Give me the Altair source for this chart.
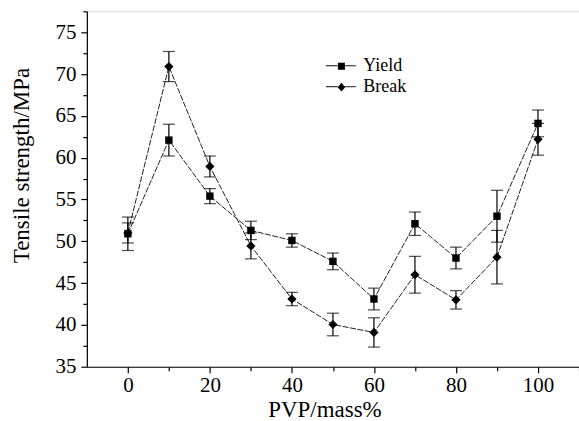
import altair as alt
import pandas as pd

# PVP content (mass %) and measured tensile strength (MPa) with error bars
pvp = [0, 10, 20, 30, 40, 50, 60, 70, 80, 90, 100]
yield_mean = [50.9, 62.1, 55.4, 51.3, 50.1, 47.6, 43.1, 52.1, 48.0, 53.0, 64.1]
yield_err = [2.0, 1.9, 0.9, 1.1, 0.8, 1.0, 1.3, 1.4, 1.3, 3.1, 1.6]
break_mean = [51.0, 70.9, 58.95, 49.45, 43.1, 40.05, 39.1, 46.0, 43.0, 48.1, 62.2]
break_err = [1.2, 1.8, 1.25, 1.55, 0.8, 1.35, 1.75, 2.2, 1.1, 3.2, 1.9]
series_names = ["Yield", "Break"]

x_major = [0, 20, 40, 60, 80, 100]
x_minor = [10, 30, 50, 70, 90, 110]
y_major = [35, 40, 45, 50, 55, 60, 65, 70, 75]
y_minor = [37.5, 42.5, 47.5, 52.5, 57.5, 62.5, 67.5, 72.5, 77.5]

rows = []
for name, means, errs in [("Yield", yield_mean, yield_err), ("Break", break_mean, break_err)]:
    for x, m, e in zip(pvp, means, errs):
        rows.append({"pvp": x, "series": name, "mean": m, "lo": m - e, "hi": m + e})
df = pd.DataFrame(rows)
caps = df.melt(id_vars=["pvp", "series"], value_vars=["lo", "hi"], value_name="cap")

FONT = "Liberation Serif"
xs = alt.Scale(domain=[-10, 110], nice=False, zero=False)
ys = alt.Scale(domain=[35, 77.5], nice=False, zero=False)

axis_common = dict(grid=False, domainColor="black", domainWidth=1.2, tickColor="black",
                   tickWidth=1.2, labelColor="black", titleColor="black",
                   labelFont=FONT, titleFont=FONT, labelFontSize=21, titleFontSize=23,
                   titleFontWeight="normal")

x_axis = alt.Axis(values=x_major, tickSize=6, labelPadding=2, format="d", orient="bottom",
                  title="PVP/mass%", titleX=238, titleY=50, titleAlign="center",
                  titleBaseline="alphabetic", labelFlush=False, **axis_common)
y_axis = alt.Axis(values=y_major, tickSize=6, labelPadding=5, format="d", orient="left",
                  title="Tensile strength/MPa", titleAngle=270, titleX=-65, titleY=154,
                  titleAlign="center", titleBaseline="middle", labelFlush=False, **axis_common)

x_axis_minor = alt.Axis(values=x_minor, tickSize=4, labels=False, domain=False, title=None,
                        orient="bottom", grid=False, tickColor="black", tickWidth=1.2)
y_axis_minor = alt.Axis(values=y_minor, tickSize=4, labels=False, domain=False, title=None,
                        orient="left", grid=False, tickColor="black", tickWidth=1.2)

base = alt.Chart(df)

lines = base.mark_line(color="#222", strokeWidth=1, strokeDash=[6, 1.5]).encode(
    x=alt.X("pvp:Q", scale=xs, axis=x_axis),
    y=alt.Y("mean:Q", scale=ys, axis=y_axis),
    detail="series:N",
)

minor = base.mark_point(opacity=0).encode(
    x=alt.X("pvp:Q", scale=xs, axis=x_axis_minor),
    y=alt.Y("mean:Q", scale=ys, axis=y_axis_minor),
)

err_rules = base.mark_rule(color="black", strokeWidth=1.2).encode(
    x=alt.X("pvp:Q", scale=xs, axis=None),
    y=alt.Y("lo:Q", scale=ys, axis=None),
    y2="hi:Q",
)

err_caps = alt.Chart(caps).mark_tick(color="black", thickness=1.2, size=12,
                                     orient="horizontal").encode(
    x=alt.X("pvp:Q", scale=xs, axis=None),
    y=alt.Y("cap:Q", scale=ys, axis=None),
)

points = base.mark_point(filled=True, color="black", opacity=1).encode(
    x=alt.X("pvp:Q", scale=xs, axis=None),
    y=alt.Y("mean:Q", scale=ys, axis=None),
    shape=alt.Shape("series:N", scale=alt.Scale(domain=series_names, range=["square", "diamond"]),
                    legend=None),
    size=alt.Size("series:N", scale=alt.Scale(domain=series_names, range=[55, 85]),
                  legend=None),
)

# Legend drawn as two stacked legends: filled markers (with labels) and the line stubs
LEG_X, LEG_Y, LEG_SIZE = 243, 43, 484
sym_square = "M-0.32,-0.32H0.32V0.32H-0.32Z"
sym_diamond = "M0,-0.4L0.34,0L0,0.4L-0.34,0Z"
sym_stub = "M-1.36,0H-0.3M0.3,0H1.36"

legend_common = dict(orient="none", legendX=LEG_X, legendY=LEG_Y, title=None,
                     symbolSize=LEG_SIZE, rowPadding=0, padding=0, symbolOpacity=1,
                     labelFont=FONT, labelFontSize=18, labelColor="black", labelOffset=10)

legend_markers = base.mark_point(filled=True, color="black", opacity=0).encode(
    x=alt.X("pvp:Q", scale=xs, axis=None),
    y=alt.Y("mean:Q", scale=ys, axis=None),
    shape=alt.Shape("series:N",
                    scale=alt.Scale(domain=series_names, range=[sym_square, sym_diamond]),
                    legend=alt.Legend(symbolFillColor="black", **legend_common)),
)

legend_stubs = base.mark_point(filled=False, color="black", opacity=0).encode(
    x=alt.X("pvp:Q", scale=xs, axis=None),
    y=alt.Y("mean:Q", scale=ys, axis=None),
    strokeDash=alt.StrokeDash("series:N",
                              scale=alt.Scale(domain=series_names, range=[[1, 0], [1, 0]]),
                              legend=None),
    shape=alt.Shape("series:N",
                    scale=alt.Scale(domain=series_names, range=[sym_stub, sym_stub]),
                    legend=alt.Legend(symbolStrokeColor="black", symbolStrokeWidth=1,
                                      labelExpr="''", **legend_common)),
)

chart = alt.layer(lines, minor, err_rules, err_caps, points, legend_stubs,
                  legend_markers).resolve_scale(
    shape="independent", size="independent", strokeDash="independent"
).resolve_axis(
    x="independent", y="independent"
).properties(
    width=493, height=356,
    autosize=alt.AutoSizeParams(type="none"),
    padding={"left": 87, "top": 11, "right": 0, "bottom": 54},
).configure_view(
    stroke="#333", strokeWidth=1
).configure(background="white")

chart.save("out.html", embed_options={"renderer": "svg", "actions": False})
